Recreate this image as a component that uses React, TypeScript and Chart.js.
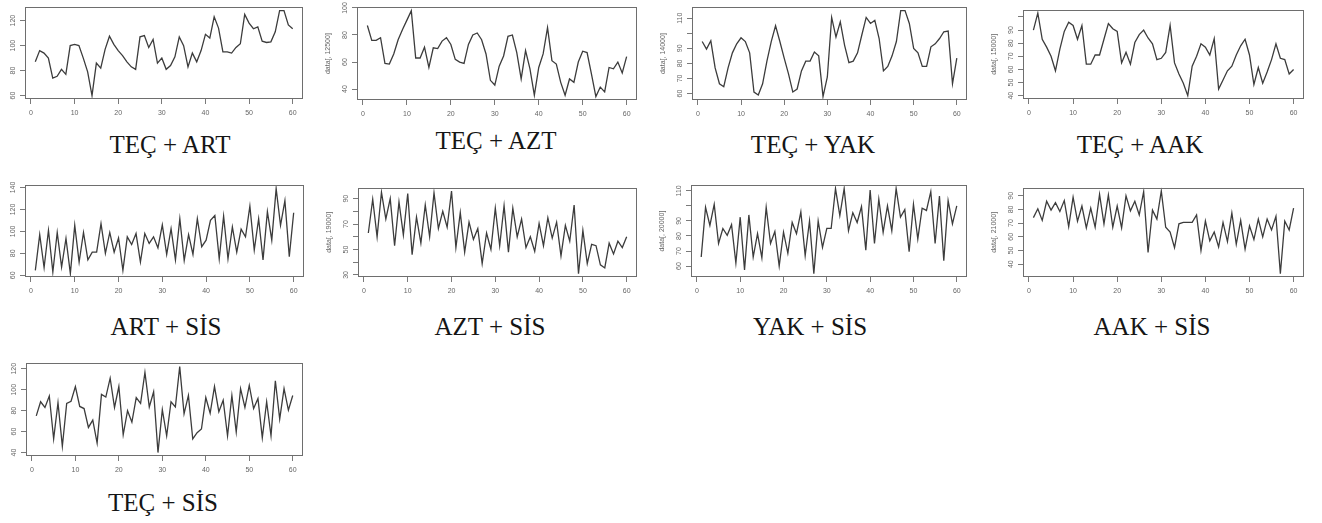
import React, { useEffect, useRef } from "react";
import { Chart, registerables } from "chart.js";

Chart.register(...registerables);

// ---------- data (60 observations per series) ----------
const tecArt = [87, 96, 94, 90, 74, 75.5, 81, 77, 100, 101, 100, 90, 79, 60, 86, 82, 97, 107.5, 101, 96, 92, 87, 83, 81, 107, 108, 98.5, 105, 86, 90, 81, 84, 91, 107, 100, 83, 94, 87, 96, 109, 106, 123, 114, 95, 95, 94, 98.5, 101.5, 125, 118, 113.5, 115, 103.5, 102.5, 103, 111, 128, 128, 116.5, 113.5];
const tecAzt = [87, 76, 76, 78, 59, 58.5, 66, 76.5, 84, 91, 98, 63, 63, 71, 56, 70.5, 70, 75.5, 78, 73, 62, 60, 59, 73, 80, 81.5, 76.5, 66, 46.5, 43, 57, 64.5, 79, 80, 67, 47.5, 68.5, 55, 35.5, 56, 66, 85.5, 61, 58.5, 45, 35.5, 47.5, 45, 60, 68, 67, 51, 34.5, 41.5, 38, 56, 55, 60, 52, 64];
const tecYak = [94.5, 89.5, 95, 77, 66.5, 64.5, 77, 87, 93, 97, 94.5, 87, 61, 59, 66.5, 81.5, 94.5, 105, 94.5, 83.5, 73, 61, 63, 75, 81.5, 81.5, 87.5, 85, 58, 71, 110.5, 97.5, 107.5, 92, 80.5, 81.5, 87, 99, 110.5, 106.5, 108.5, 96.5, 75, 78, 85, 94.5, 115, 115, 106.5, 90, 87, 78, 78, 91, 93, 96.5, 101, 101.5, 66.5, 83.5];
const tecAak = [90, 103, 83, 77, 70, 59, 75.5, 89, 96, 93.5, 83, 93.5, 64, 64, 71, 71, 83, 95, 91, 89, 65, 73, 64, 80.5, 86.5, 90, 84, 79.5, 67.5, 68.5, 73, 93.5, 65, 56.5, 49.5, 40, 62.5, 70, 79.5, 77, 71, 83.5, 45, 52, 59, 62.5, 71, 78, 83, 71, 48.5, 61.5, 49.5, 58, 67.5, 79.5, 68.5, 67.5, 56.5, 60];
const artSis = [64.5, 97, 67, 101, 63, 99, 67.5, 93.5, 61.5, 105.5, 72, 99, 74, 81, 81, 107, 80, 99, 81, 94, 64.5, 95, 88, 98, 72, 98, 89, 95, 85, 106, 79, 102.5, 74, 111.5, 73.5, 97, 79, 111.5, 86, 92, 110, 114.5, 75, 114, 75, 104, 81, 102, 95, 123, 83, 111.5, 74, 118, 92, 139, 105.5, 128, 77, 117];
const aztSis = [63, 89.5, 60, 95, 74, 90, 53, 87.5, 61.5, 94, 46, 75.5, 55, 85, 60, 94.5, 66.5, 80, 67.5, 96, 51.5, 79, 48, 71.5, 58, 66.5, 39, 63, 50, 82.5, 53, 84.5, 48, 82.5, 60, 74, 51.5, 60, 48.5, 70.5, 53, 75, 59, 71.5, 45, 69, 56.5, 85, 31, 65, 39, 54, 53, 38, 35.5, 55, 46.5, 56.5, 51.5, 60];
const yakSis = [66, 99, 87, 101, 75, 85, 80.5, 87.5, 62, 92.5, 57.5, 94, 66, 81.5, 65.5, 99, 75, 83, 60, 82.5, 68.5, 89, 81.5, 96, 67, 90, 55, 90, 72.5, 85, 85, 111.5, 93.5, 111.5, 83.5, 95.5, 89, 99.5, 70.5, 110.5, 75, 104.5, 82.5, 100, 83.5, 111.5, 92.5, 97.5, 69.5, 101, 78, 98.5, 97, 109.5, 75, 106.5, 63.5, 103.5, 88, 100];
const aakSis = [74, 80.5, 72, 86, 79.5, 85, 78.5, 86.5, 67.5, 89, 71.5, 82.5, 66.5, 81, 67, 91, 69.5, 90.5, 67, 82.5, 66.5, 90, 79, 86, 76, 93, 48.5, 79.5, 73, 93.5, 67, 63.5, 52, 69.5, 70.5, 70.5, 70.5, 76, 50, 71.5, 57, 63.5, 52.5, 70.5, 56.5, 77.5, 54.5, 72, 51, 68, 58, 73, 60, 73, 65, 75, 33, 71.5, 65, 81];
const tecSis = [75, 88.5, 83, 94, 53, 87.5, 46, 87, 89, 103, 84, 82, 64, 71, 49, 95.5, 93, 111, 83, 103, 57, 80, 69, 92.5, 87, 116.5, 83.5, 98, 40, 81, 56, 88.5, 83.5, 122, 77, 94.5, 53, 59, 62.5, 92.5, 77.5, 103, 79, 90, 56, 94.5, 59.5, 101, 83, 104, 82, 91.5, 54, 88.5, 56, 108.5, 72, 101, 80.5, 94.5];

// ---------- tick values / labels ----------
const xTicks = [0, 10, 20, 30, 40, 50, 60];
const xTickLabels = ["0", "10", "20", "30", "40", "50", "60"];

const yTicks1 = [60, 80, 100, 120];
const yLabels1 = ["60", "80", "100", "120"];
const yTicks2 = [40, 60, 80, 100];
const yLabels2 = ["40", "60", "80", "100"];
const yTicks3 = [60, 70, 80, 90, 100, 110];
const yLabels3 = ["60", "70", "80", "90", "", "110"];
const yTicks4 = [40, 50, 60, 70, 80, 90, 100];
const yLabels4 = ["40", "50", "60", "70", "80", "90", ""];
const yTicks5 = [60, 80, 100, 120, 140];
const yLabels5 = ["60", "80", "100", "120", "140"];
const yTicks6 = [30, 40, 50, 60, 70, 80, 90];
const yLabels6 = ["30", "", "50", "", "70", "", "90"];
const yTicks7 = [60, 70, 80, 90, 100, 110];
const yLabels7 = ["60", "70", "80", "90", "", "110"];
const yTicks8 = [40, 50, 60, 70, 80, 90];
const yLabels8 = ["40", "50", "60", "70", "80", "90"];
const yTicks9 = [40, 60, 80, 100, 120];
const yLabels9 = ["40", "60", "80", "100", "120"];

const titles = ["TEÇ + ART", "TEÇ + AZT", "TEÇ + YAK", "TEÇ + AAK", "ART + SİS", "AZT + SİS", "YAK + SİS", "AAK + SİS", "TEÇ + SİS"];
const yTitles = [null, "data[, 12500]", "data[, 14000]", "data[, 15000]", null, "data[, 19000]", "data[, 20000]", "data[, 21000]", null];

// ---------- layout (plot boxes & title anchors, in page px) ----------
const panels = [
  { values: tecArt, yTicks: yTicks1, yLabels: yLabels1, box: [25, 4, 303, 99], tx: 170, ty: 145 },
  { values: tecAzt, yTicks: yTicks2, yLabels: yLabels2, box: [357, 4, 637, 100], tx: 496, ty: 141 },
  { values: tecYak, yTicks: yTicks3, yLabels: yLabels3, box: [692, 4, 967, 100], tx: 813, ty: 145 },
  { values: tecAak, yTicks: yTicks4, yLabels: yLabels4, box: [1023, 4, 1304, 99], tx: 1140, ty: 145 },
  { values: artSis, yTicks: yTicks5, yLabels: yLabels5, box: [25, 182, 304, 277], tx: 166, ty: 327 },
  { values: aztSis, yTicks: yTicks6, yLabels: yLabels6, box: [358, 182, 637, 277], tx: 490, ty: 327 },
  { values: yakSis, yTicks: yTicks7, yLabels: yLabels7, box: [691, 182, 967, 277], tx: 810, ty: 327 },
  { values: aakSis, yTicks: yTicks8, yLabels: yLabels8, box: [1023, 182, 1304, 277], tx: 1152, ty: 327 },
  { values: tecSis, yTicks: yTicks9, yLabels: yLabels9, box: [26, 360, 303, 456], tx: 163, ty: 503 },
];

const Y_AXIS_W = 33;
const X_AXIS_H = 24;
const PAD_TOP = 2;
const PAD_RIGHT = 5;
const TICK_FONT = { family: "Arial, 'Liberation Sans', sans-serif", size: 7 };

const boxPlugin = {
  id: "rbox",
  afterDraw(chart: any) {
    const { ctx, chartArea: a } = chart;
    ctx.save();
    ctx.strokeStyle = "#6e6e6e";
    ctx.lineWidth = 1;
    ctx.strokeRect(
      Math.round(a.left) + 0.5,
      Math.round(a.top) + 0.5,
      Math.round(a.right - a.left) - 1,
      Math.round(a.bottom - a.top) - 1
    );
    ctx.restore();
  },
};

function Panel({ idx }: { idx: number }) {
  const ref = useRef<HTMLCanvasElement | null>(null);
  const p = panels[idx];
  const [l, t, r, b] = p.box;
  const cw = r - l + Y_AXIS_W + PAD_RIGHT;
  const ch = b - t + PAD_TOP + X_AXIS_H;

  useEffect(() => {
    if (!ref.current) return;
    const vals = p.values;
    const n = vals.length;
    const points = vals.map((v, i) => ({ x: i + 1, y: v }));
    const xr = n - 1;
    const ymin = Math.min(...vals);
    const ymax = Math.max(...vals);
    const yr = ymax - ymin;
    const widest = Math.max(...p.yLabels.map((s) => s.length));
    const yPad = widest >= 3 ? 1 : 3.5;
    const yTitle = yTitles[idx];

    const chart = new Chart(ref.current, {
      type: "line",
      data: {
        datasets: [
          {
            data: points,
            borderColor: "#3c3c3c",
            borderWidth: 1.3,
            pointRadius: 0,
            tension: 0,
            fill: false,
          },
        ],
      },
      options: {
        animation: false,
        responsive: false,
        maintainAspectRatio: false,
        devicePixelRatio: 1,
        events: [],
        layout: { padding: { top: PAD_TOP, right: PAD_RIGHT, left: 0, bottom: 0 } },
        plugins: {
          legend: { display: false },
          tooltip: { enabled: false },
          title: { display: false },
        },
        scales: {
          x: {
            type: "linear",
            min: 1 - 0.04 * xr,
            max: n + 0.04 * xr,
            afterBuildTicks: (s: any) => {
              s.ticks = xTicks.map((v) => ({ value: v }));
            },
            afterFit: (s: any) => {
              s.height = X_AXIS_H;
            },
            border: { display: false },
            grid: {
              display: true,
              drawOnChartArea: false,
              drawTicks: true,
              tickLength: 5,
              color: "#7a7a7a",
              lineWidth: 1,
            },
            ticks: {
              autoSkip: false,
              maxRotation: 0,
              minRotation: 0,
              padding: 5,
              font: TICK_FONT,
              color: "#666",
              callback: (v: any) => {
                const i = xTicks.indexOf(Number(v));
                return i >= 0 ? xTickLabels[i] : "";
              },
            },
          },
          y: {
            type: "linear",
            min: ymin - 0.04 * yr,
            max: ymax + 0.04 * yr,
            afterBuildTicks: (s: any) => {
              s.ticks = p.yTicks.map((v) => ({ value: v }));
            },
            afterFit: (s: any) => {
              s.width = Y_AXIS_W;
            },
            border: { display: false },
            grid: {
              display: true,
              drawOnChartArea: false,
              drawTicks: true,
              tickLength: 5,
              color: "#7a7a7a",
              lineWidth: 1,
            },
            ticks: {
              autoSkip: false,
              minRotation: 90,
              maxRotation: 90,
              crossAlign: "center",
              padding: yPad,
              font: TICK_FONT,
              color: "#666",
              callback: (v: any) => {
                const i = p.yTicks.indexOf(Number(v));
                return i >= 0 ? p.yLabels[i] : "";
              },
            },
            title: {
              display: !!yTitle,
              text: yTitle || "",
              font: { family: "Arial, 'Liberation Sans', sans-serif", size: 7 },
              color: "#666",
              padding: { top: 0, bottom: 0 },
            },
          },
        },
      } as any,
      plugins: [boxPlugin],
    });
    return () => chart.destroy();
  }, [idx]);

  return (
    <canvas
      ref={ref}
      width={cw}
      height={ch}
      style={{
        position: "absolute",
        left: l - Y_AXIS_W,
        top: t - PAD_TOP,
        width: cw,
        height: ch,
        display: "block",
      }}
    />
  );
}

export default function App() {
  return (
    <div
      style={{
        position: "fixed",
        left: 0,
        top: 0,
        width: 1322,
        height: 523,
        overflow: "hidden",
        background: "#ffffff",
      }}
    >
      {panels.map((_, i) => (
        <Panel key={i} idx={i} />
      ))}
      {panels.map((p, i) => (
        <div
          key={"t" + i}
          style={{
            position: "absolute",
            left: p.tx - 150,
            top: p.ty - 12,
            width: 300,
            textAlign: "center",
            fontFamily: "'Liberation Serif', 'Times New Roman', serif",
            fontSize: 25,
            lineHeight: "24px",
            color: "#151515",
            whiteSpace: "nowrap",
          }}
        >
          {titles[i]}
        </div>
      ))}
    </div>
  );
}
